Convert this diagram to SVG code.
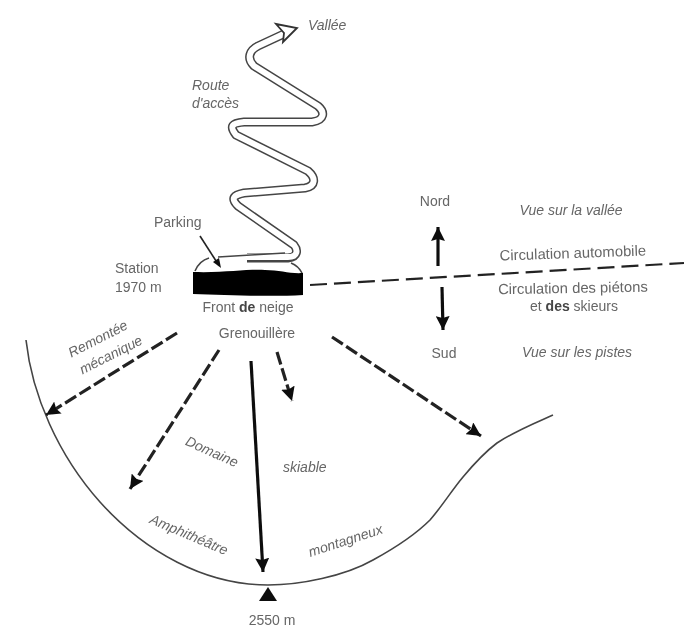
<svg xmlns="http://www.w3.org/2000/svg" width="684" height="628" viewBox="0 0 684 628">
<defs>
<filter id="soft" x="-5%" y="-5%" width="110%" height="110%"><feGaussianBlur stdDeviation="0.7"/></filter>
<marker id="head" markerUnits="userSpaceOnUse" markerWidth="16" markerHeight="14" refX="14" refY="7" orient="auto"><path d="M0 0L14 7L0 14L2 7Z" fill="#111"/></marker>
</defs>
<style>
text{font-family:"Liberation Sans",Arial,sans-serif;font-size:14px;fill:#666}
.i{font-style:italic}
.m{text-anchor:middle}
.w{font-size:14.8px}
.b{font-weight:bold;fill:#444}
.dash{fill:none;stroke:#222;stroke-width:3.2;stroke-dasharray:13 4;marker-end:url(#head)}
.solid{fill:none;stroke:#111;stroke-width:3.2;marker-end:url(#head)}
.road-o{fill:none;stroke:#444;stroke-width:9;stroke-linejoin:round}
.road-i{fill:none;stroke:#fff;stroke-width:6;stroke-linejoin:round}
</style>
<rect width="684" height="628" fill="#fff"/>
<g filter="url(#soft)">
<g id="terrain">
<path d="M26 340C32 395 58 455 100 502C145 552 205 585 268 585C300 585 345 576 373 560C395 548 415 535 430 520C443 505 452 490 463 477C473 465 485 452 497 443C515 431 535 423 553 415" fill="none" stroke="#444" stroke-width="1.6"/>
<path d="M259 601H277L268 587Z" fill="#111"/>
</g>
<g id="route">
<path class="road-o" d="M247 258H288C298 257 298 250 294 245L238 206C230 198 234 195 244 193L305 188C316 186 316 178 308 171L236 135C229 126 232 123 244 122H312C325 120 325 112 318 106L254 66C246 58 250 50 258 46L286 33"/>
<path class="road-i" d="M215 257H288C298 257 298 250 294 245L238 206C230 198 234 195 244 193L305 188C316 186 316 178 308 171L236 135C229 126 232 123 244 122H312C325 120 325 112 318 106L254 66C246 58 250 50 258 46L288 32"/>
<path d="M218 257L285 253" fill="none" stroke="#444" stroke-width="1.6"/>
<path d="M276 24L297 28L283 42L284 33Z" fill="#fff" stroke="#333" stroke-width="1.8"/>
</g>
<g id="station">
<path d="M195 271C198 264 202 260 209 258M291 263C296 265 300 269 302 273" fill="none" stroke="#444" stroke-width="1.6"/>
<path d="M193 272C225 273 245 269 265 270C280 270 290 274 303 273V295C270 297 225 295 193 294Z" fill="#050505"/>
<path d="M200 236L218 264" fill="none" stroke="#222" stroke-width="1.6"/>
<path d="M221 268L213 262L219 258Z" fill="#111"/>
</g>
<g id="connectors">
<path class="dash" style="marker-end:none;stroke-width:2.2;stroke-dasharray:17 7" d="M310 285L684 263"/>
<path class="dash" d="M177 333L46 415"/>
<path class="dash" d="M219 350L130 489"/>
<path class="solid" d="M251 361L263 572"/>
<path class="dash" d="M277 352L292 401"/>
<path class="dash" d="M332 337L481 436"/>
<path class="solid" d="M438 266L438 227"/>
<path class="solid" d="M442 287L443 330"/>
</g>
<g id="labels">
<text x="308" y="30" class="i">Vallée</text>
<text x="192" y="90" class="i">Route</text>
<text x="192" y="108" class="i">d'accès</text>
<text x="154" y="227">Parking</text>
<text x="115" y="273">Station</text>
<text x="115" y="292">1970 m</text>
<text x="248" y="312" class="m">Front <tspan class="b">de</tspan> neige</text>
<text x="257" y="338" class="m">Grenouillère</text>
<text class="m i" transform="translate(100 343) rotate(-27)">Remontée</text>
<text class="m i" transform="translate(113 359) rotate(-27)">mécanique</text>
<text class="m i" transform="translate(210 456) rotate(24)">Domaine</text>
<text x="283" y="472" class="i">skiable</text>
<text class="m i" transform="translate(187 539) rotate(23)">Amphithéâtre</text>
<text class="m i" transform="translate(347 545) rotate(-18)">montagneux</text>
<text x="272" y="625" class="m">2550 m</text>
<text x="435" y="206" class="m">Nord</text>
<text x="444" y="358" class="m">Sud</text>
<text x="571" y="215" class="m i">Vue sur la vallée</text>
<text x="573" y="258" class="m w" transform="rotate(-2 573 258)">Circulation automobile</text>
<text x="573" y="293" class="m w" transform="rotate(-1 573 293)">Circulation des piétons</text>
<text x="574" y="311" class="m">et <tspan class="b">des</tspan> skieurs</text>
<text x="577" y="357" class="m i">Vue sur les pistes</text>
</g>
</g>
</svg>
